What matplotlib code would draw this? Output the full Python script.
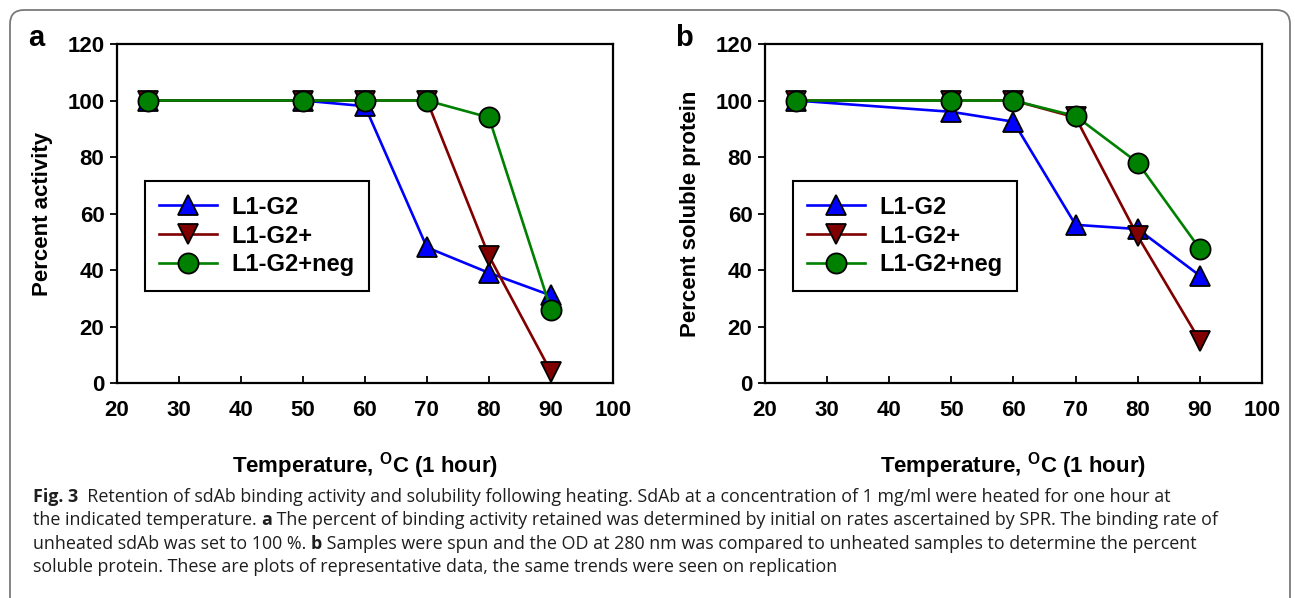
import matplotlib
matplotlib.use("Agg")
import matplotlib.pyplot as plt
from matplotlib.patches import FancyBboxPatch
from matplotlib.transforms import IdentityTransform

plt.rcParams['font.family'] = ['Liberation Sans', 'DejaVu Sans']

# data
temps = [25, 50, 60, 70, 80, 90]
series_names = ["L1-G2", "L1-G2+", "L1-G2+neg"]

# panel a : percent activity
act_g2 = [100, 100, 98, 48, 39, 31]
act_g2plus = [100, 100, 100, 100, 45, 4]
act_g2neg = [100, 100, 100, 100, 94, 26]

# panel b : percent soluble protein
sol_g2 = [100, 96, 92.5, 56, 54.5, 38]
sol_g2plus = [100, 100, 100, 94, 52, 15]
sol_g2neg = [100, 100, 100, 94.5, 78, 47.5]

xticks = [20, 30, 40, 50, 60, 70, 80, 90, 100]
yticks = [0, 20, 40, 60, 80, 100, 120]

colors = ["#0000ff", "#800000", "#008000"]
markers = ["^", "v", "o"]

fig = plt.figure(figsize=(12.95, 5.98), dpi=100)

# rounded frame round the whole figure
frame = FancyBboxPatch((10, -30), 1280, 598 - 10 + 30,
                       boxstyle="round,pad=0,rounding_size=14",
                       transform=IdentityTransform(), fill=False,
                       edgecolor="#7a7a7a", linewidth=1.3)
fig.patches.append(frame)


def draw_panel(ax, ys, ylabel, letter):
    for y, c, m, name in zip(ys, colors, markers, series_names):
        ax.plot(temps, y, color=c, linewidth=1.9, marker=m,
                markersize=15 if m != "o" else 14.5,
                markerfacecolor=c, markeredgecolor="black",
                markeredgewidth=1.3, label=name)
    ax.set_xlim(20, 100)
    ax.set_ylim(0, 120)
    ax.set_xticks(xticks)
    ax.set_yticks(yticks)
    for sp in ax.spines.values():
        sp.set_linewidth(1.6)
    ax.tick_params(axis="x", direction="in", length=5, width=1.3, pad=12)
    ax.tick_params(axis="y", direction="out", length=5, width=1.3, pad=4)
    for lab in ax.get_xticklabels() + ax.get_yticklabels():
        lab.set_fontsize(16)
        lab.set_fontweight("bold")
    ax.set_xlabel(r"Temperature, $^\mathregular{O}$C (1 hour)",
                  fontsize=16, fontweight="bold", labelpad=21)
    ax.set_ylabel(ylabel, fontsize=16, fontweight="bold", labelpad=10)
    leg = ax.legend(loc="upper left", bbox_to_anchor=(0.056, 0.596),
                    prop={"size": 17, "weight": "bold"}, fancybox=False,
                    edgecolor="black", framealpha=1, handlelength=2.45,
                    borderpad=0.62, labelspacing=0.25, handletextpad=0.6,
                    borderaxespad=0)
    leg.get_frame().set_linewidth(1.5)
    ax.text(-0.18, 1.018, letter, transform=ax.transAxes, fontsize=21,
            fontweight="bold", ha="left", va="center")


ax1 = fig.add_axes([0.0903, 0.3595, 0.3830, 0.5669])
draw_panel(ax1, [act_g2, act_g2plus, act_g2neg], "Percent activity", "a")

ax2 = fig.add_axes([0.5907, 0.3595, 0.3838, 0.5669])
draw_panel(ax2, [sol_g2, sol_g2plus, sol_g2neg], "Percent soluble protein", "b")

# caption, written run by run so the bold bits sit inline
caption_lines = [
    [("Fig. 3", "bold"), ("  Retention of sdAb binding activity and solubility following heating. "
                          "SdAb at a concentration of 1 mg/ml were heated for one hour at", "normal")],
    [("the indicated temperature. ", "normal"), ("a", "bold"),
     (" The percent of binding activity retained was determined by initial on rates "
      "ascertained by SPR. The binding rate of", "normal")],
    [("unheated sdAb was set to 100 %. ", "normal"), ("b", "bold"),
     (" Samples were spun and the OD at 280 nm was compared to unheated samples to "
      "determine the percent", "normal")],
    [("soluble protein. These are plots of representative data, the same trends were "
      "seen on replication", "normal")],
]

renderer = fig.canvas.get_renderer()
cap_family = ['Open Sans', 'DejaVu Sans']
y_px = [497, 520, 544, 567]
for line, yp in zip(caption_lines, y_px):
    x = 33
    for txt, w in line:
        t = fig.text(x / 1295, 1 - yp / 598, txt, fontsize=12.9, fontweight=w,
                     family=cap_family, ha="left", va="center", color="#1e1e1e")
        bb = t.get_window_extent(renderer)
        x += bb.width

fig.savefig("out.png", dpi=100)
